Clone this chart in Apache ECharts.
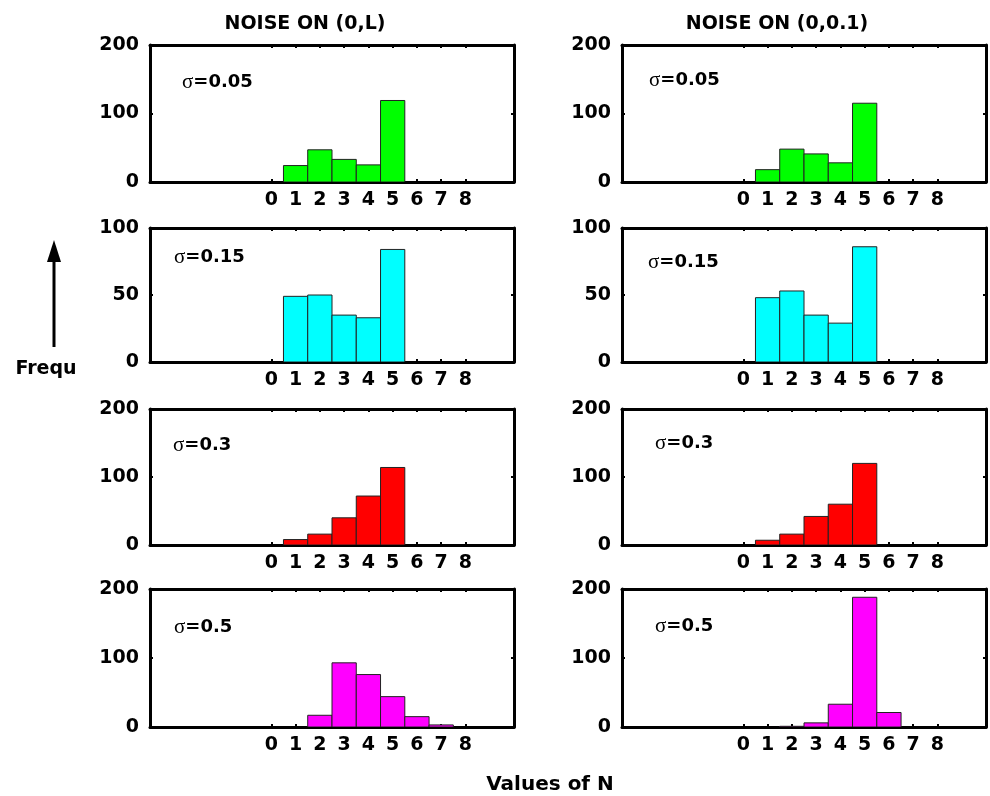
<!DOCTYPE html>
<html>
<head>
<meta charset="utf-8">
<script src="https://cdn.jsdelivr.net/npm/echarts@6/dist/echarts.min.js"></script>
<style>
  html, body { margin: 0; padding: 0; background: #fff; }
  #chart { width: 990px; height: 796px; }
</style>
</head>
<body>
<div id="chart"></div>
<script>
// Histogram bins (values of N)
const bins = [0, 1, 2, 3, 4, 5, 6, 7, 8];

// Column headers
const columnTitles = ['NOISE ON (0,L)', 'NOISE ON (0,0.1)'];

// Noise levels, one per row
const sigmaLabels = ['0.05', '0.15', '0.3', '0.5'];

// Frequencies per bin, left column: noise on (0,L)
const freqL_005 = [0, 24, 47, 33, 25, 119, 0, 0, 0];
const freqL_015 = [0, 49, 50, 35, 33, 84, 0, 0, 0];
const freqL_03  = [0, 8, 16, 40, 72, 114, 0, 0, 0];
const freqL_05  = [0, 0, 17, 93, 76, 44, 15, 3, 0];

// Frequencies per bin, right column: noise on (0,0.1)
const freqR_005 = [0, 18, 48, 41, 28, 115, 0, 0, 0];
const freqR_015 = [0, 48, 53, 35, 29, 86, 0, 0, 0];
const freqR_03  = [0, 7, 16, 42, 60, 120, 0, 0, 0];
const freqR_05  = [0, 0, 1, 6, 33, 188, 21, 0, 0];

// Y-axis ranges per row
const yMaxByRow = [200, 100, 200, 200];
const yStepByRow = [100, 50, 100, 100];

const rowColors = ['#00ff00', '#00ffff', '#ff0000', '#ff00ff'];

const panels = [
  [freqL_005, freqR_005],
  [freqL_015, freqR_015],
  [freqL_03, freqR_03],
  [freqL_05, freqR_05]
];

// Layout
const colLeft = [150, 622];
const colWidth = 364;
const rowTop = [45, 228, 409, 589];
const rowHeight = [137, 134, 136, 138];
const sigmaPos = [
  [[182, 83], [649, 81]],
  [[174, 258], [648, 263]],
  [[173, 446], [655, 444]],
  [[174, 628], [655, 627]]
];

const FONT = '"DejaVu Sans", Arial, sans-serif';
const AXIS_W = 3;

const grid = [], xAxis = [], yAxis = [], series = [], graphic = [];

let gi = 0;
for (let r = 0; r < 4; r++) {
  for (let c = 0; c < 2; c++) {
    grid.push({ left: colLeft[c], top: rowTop[r], width: colWidth, height: rowHeight[r] });
    const lineStyle = { color: '#000', width: AXIS_W };
    // bottom x axis with labels
    xAxis.push({
      type: 'value', gridIndex: gi, min: -5, max: 10, interval: 1, position: 'bottom',
      axisLine: { show: true, onZero: false, lineStyle },
      axisTick: { show: true, inside: true, length: 3, customValues: bins, lineStyle: { color: '#000', width: 2 } },
      axisLabel: { show: true, customValues: bins, margin: 9, color: '#000', fontFamily: FONT, fontWeight: 'bold', fontSize: 19 },
      splitLine: { show: false }
    });
    // top x axis (frame + ticks)
    xAxis.push({
      type: 'value', gridIndex: gi, min: -5, max: 10, interval: 1, position: 'top',
      axisLine: { show: true, onZero: false, lineStyle },
      axisTick: { show: true, inside: true, length: 3, customValues: bins, lineStyle: { color: '#000', width: 2 } },
      axisLabel: { show: false },
      splitLine: { show: false }
    });
    const yMax = yMaxByRow[r], yStep = yStepByRow[r];
    yAxis.push({
      type: 'value', gridIndex: gi, min: 0, max: yMax, interval: yStep, position: 'left',
      axisLine: { show: true, onZero: false, lineStyle },
      axisTick: { show: true, inside: true, length: 3, lineStyle: { color: '#000', width: 2 } },
      axisLabel: { show: true, margin: 11, color: '#000', fontFamily: FONT, fontWeight: 'bold', fontSize: 19 },
      splitLine: { show: false }
    });
    yAxis.push({
      type: 'value', gridIndex: gi, min: 0, max: yMax, interval: yStep, position: 'right',
      axisLine: { show: true, onZero: false, lineStyle },
      axisTick: { show: true, inside: true, length: 3, lineStyle: { color: '#000', width: 2 } },
      axisLabel: { show: false },
      splitLine: { show: false }
    });

    const values = panels[r][c];
    const color = rowColors[r];
    series.push({
      type: 'custom',
      xAxisIndex: gi * 2,
      yAxisIndex: gi * 2,
      clip: true,
      data: bins.map((b, i) => [b, values[i]]),
      renderItem: function (params, api) {
        const x = api.value(0), y = api.value(1);
        if (y <= 0) return null;
        const p0 = api.coord([x - 0.5, 0]);
        const p1 = api.coord([x + 0.5, y]);
        return {
          type: 'rect',
          shape: { x: p0[0], y: p1[1], width: p1[0] - p0[0], height: p0[1] - p1[1] },
          style: { fill: color, stroke: '#222', lineWidth: 1 }
        };
      },
      z: 1
    });

    const sp = sigmaPos[r][c];
    graphic.push({
      type: 'text', left: sp[0], top: sp[1] - 11,
      style: {
        text: '{s|σ}{v|=' + sigmaLabels[r] + '}',
        rich: {
          s: { fontFamily: '"Liberation Serif", serif', fontSize: 21, fill: '#000' },
          v: { fontFamily: FONT, fontWeight: 'bold', fontSize: 18, fill: '#000' }
        }
      }
    });
    gi++;
  }
}

// Column headers
graphic.push({ type: 'text', x: 305, y: 24, style: { text: columnTitles[0], textAlign: 'center', textVerticalAlign: 'middle', font: 'bold 19px ' + FONT, fill: '#000' } });
graphic.push({ type: 'text', x: 777, y: 24, style: { text: columnTitles[1], textAlign: 'center', textVerticalAlign: 'middle', font: 'bold 19px ' + FONT, fill: '#000' } });

// Axis captions
graphic.push({ type: 'text', x: 550, y: 785, style: { text: 'Values of N', textAlign: 'center', textVerticalAlign: 'middle', font: 'bold 20px ' + FONT, fill: '#000' } });
graphic.push({ type: 'text', x: 46, y: 369, style: { text: 'Frequ', textAlign: 'center', textVerticalAlign: 'middle', font: 'bold 19px ' + FONT, fill: '#000' } });
// Upward arrow above "Frequ"
graphic.push({ type: 'line', shape: { x1: 54, y1: 347, x2: 54, y2: 258 }, style: { stroke: '#000', lineWidth: 3 } });
graphic.push({ type: 'polygon', shape: { points: [[54, 240], [47, 262], [61, 262]] }, style: { fill: '#000' } });

const chart = echarts.init(document.getElementById('chart'), null, { renderer: 'canvas' });
chart.setOption({
  animation: false,
  backgroundColor: '#fff',
  grid, xAxis, yAxis, series, graphic
});
</script>
</body>
</html>
